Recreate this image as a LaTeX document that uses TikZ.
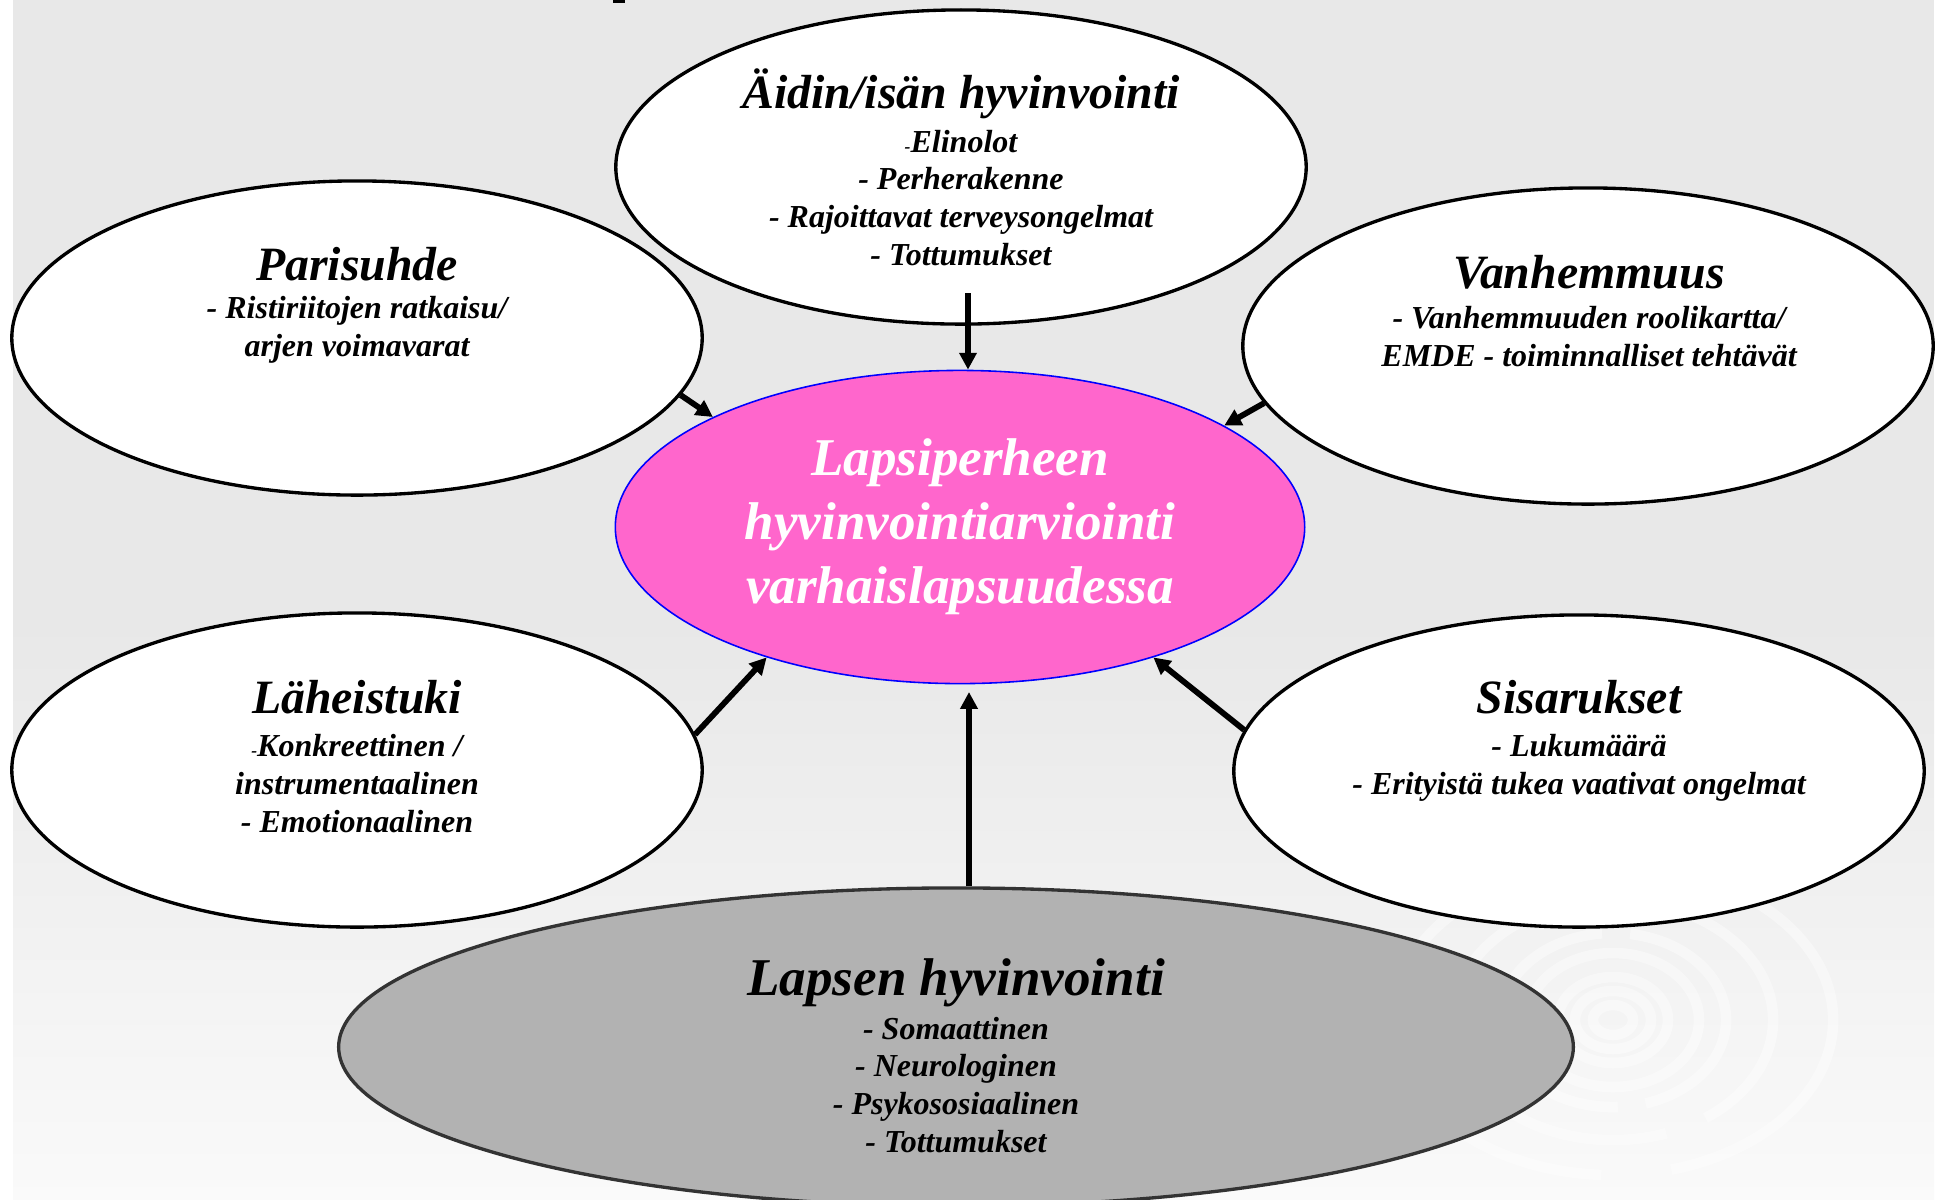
\documentclass[tikz,border=0pt]{standalone}
\usepackage{fontspec}
\setmainfont{Liberation Serif}
\usetikzlibrary{shapes.geometric,arrows.meta}
\definecolor{bggray}{HTML}{E8E8E8}
\definecolor{hotpink}{HTML}{FF66CC}
\definecolor{childgray}{HTML}{B2B2B2}
\definecolor{rimgray}{HTML}{333333}

\begin{document}
\begin{tikzpicture}[x=0.01cm, y=-0.01cm,
    bubble/.style={ellipse, draw=black, line width=0.95pt, fill=white, inner sep=0pt,
                   minimum width=6.9cm, minimum height=3.14cm},
    txt/.style={align=center, inner sep=0pt, anchor=base,
                font=\fontsize{9.1}{10.7}\selectfont\bfseries\itshape},
    ripple/.style={white, line width=3pt, opacity=0.4},
    link/.style={-{Triangle[length=4.8pt,width=4.8pt]}, line width=1.65pt}]
    \useasboundingbox (0,0) rectangle (1939,1199);
    % background
    \fill [bggray] (13,0) rectangle (1934,621);
    \shade [top color=bggray, bottom color=white!98!black] (13,620) rectangle (1934,1199);
    \fill (613,0) rectangle (625,3);
    \foreach \rx/\ry in {20/15, 38/29, 55/43, 86/67}
        \draw [ripple] (1613,1020) ellipse ({\rx*0.01cm} and {\ry*0.01cm});
    \draw [ripple, dash pattern=on 40pt off 8pt] (1613,1020) ellipse (1.13cm and 0.87cm);
    \draw [ripple, dash pattern=on 60pt off 12pt] (1613,1020) ellipse (1.6cm and 1.2cm);
    \draw [ripple, dash pattern=on 70pt off 20pt] (1613,1020) ellipse (2.2cm and 1.55cm);

    % Place nodes
    \node [bubble] (aidin) at (961,167) {};
    \node [bubble] (paris) at (357,338) {};
    \node [bubble, minimum height=3.16cm] (vanhem) at (1588,346) {};
    \node [bubble] (laheis) at (357,770) {};
    \node [bubble, minimum height=3.12cm] (sisar) at (1579,771) {};
    \node [ellipse, draw=blue, line width=0.45pt, fill=hotpink, inner sep=0pt,
           minimum width=6.89cm, minimum height=3.13cm] (centre) at (960,527) {};
    \node [ellipse, draw=rimgray, line width=0.95pt, fill=childgray, inner sep=0pt,
           minimum width=12.34cm, minimum height=3.18cm] (lapsen) at (956,1047) {};

    % Texts (placed at the baseline of their last line)
    \node [txt] (aidinT) at (961,265) {{\fontsize{13.6}{10.7}\selectfont Äidin/isän hyvinvointi}\\[1.8pt]
        {\fontsize{5}{6}\selectfont -}Elinolot\\ - Perherakenne\\ - Rajoittavat terveysongelmat\\ - Tottumukset};
    \node [txt] (parisT) at (357,356) {{\fontsize{13.6}{10.7}\selectfont Parisuhde}\\
        - Ristiriitojen ratkaisu/\\ arjen voimavarat};
    \node [txt] (vanhemT) at (1589,366) {{\fontsize{13.6}{10.7}\selectfont Vanhemmuus}\\[0.6pt]
        - Vanhemmuuden roolikartta/\\ EMDE - toiminnalliset tehtävät};
    \node [txt, text=white, font=\fontsize{15.1}{18.2}\selectfont\bfseries\itshape] (centreT) at (960,603)
        {Lapsiperheen\\ hyvinvointiarviointi\\ varhaislapsuudessa};
    \node [txt] (laheisT) at (357,832) {{\fontsize{13.6}{10.7}\selectfont Läheistuki}\\[1.5pt]
        {\fontsize{5}{6}\selectfont -}Konkreettinen /\\ instrumentaalinen\\ - Emotionaalinen};
    \node [txt] (sisarT) at (1579,794) {{\fontsize{13.6}{10.7}\selectfont Sisarukset}\\[1.5pt]
        - Lukumäärä\\ - Erityistä tukea vaativat ongelmat};
    \node [txt] (lapsenT) at (956,1152) {{\fontsize{15.1}{10.7}\selectfont Lapsen hyvinvointi}\\[1.6pt]
        - Somaattinen\\ - Neurologinen\\ - Psykososiaalinen\\ - Tottumukset};

    % Arrows
    \coordinate (aidinTail) at (968,293);
    \coordinate (lapsenTip) at (969,692);
    \path [draw, link] (aidinTail) -- (aidinTail |- centre.north);
    \path [draw, link] (paris.-10.7) -- (centre.156.3);
    \path [draw, link] (vanhem.-170.9) -- (centre.21.6);
    \path [draw, link] (laheis.6.3) -- (centre.-146.2);
    \path [draw, link] (sisar.173.3) -- (centre.-34.6);
    \path [draw, link] (lapsenTip |- lapsen.north) -- (lapsenTip);
\end{tikzpicture}
\end{document}
